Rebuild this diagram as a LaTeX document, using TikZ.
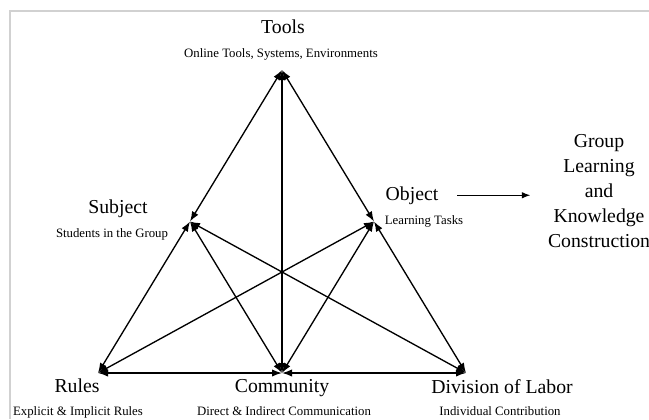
\documentclass[tikz,border=0pt]{standalone}
\usepackage{fontspec}
\setmainfont{Liberation Serif}
\usetikzlibrary{arrows.meta,calc}

\tikzset{
  big/.style={font=\fontsize{14.8}{18.9}\selectfont, inner sep=0pt},
  small/.style={font=\fontsize{9.6}{11}\selectfont, inner sep=0pt},
  link/.style={{Latex[length=7.5pt,width=5.5pt]}-{Latex[length=7.5pt,width=5.5pt]}, line width=1pt},
  lead/.style={-{Latex[length=6.5pt,width=5pt]}, line width=1pt},
}

\begin{document}
\begin{tikzpicture}[x=0.75pt,y=0.75pt,yscale=-1,xscale=1]
\useasboundingbox (0,0) rectangle (649,419);

%Frame
\draw[black!18, line width=0.8pt] (10,419) -- (10,11) -- (649,11);

%Corners of the triangle
\coordinate (tools) at (282,70);
\coordinate (rules) at (98,373);
\coordinate (division) at (466,373);
\coordinate (community) at ($(rules)!0.5!(division)$);
\coordinate (subject) at ($(tools)!0.5!(rules)$);
\coordinate (object) at ($(tools)!0.5!(division)$);

%Links
\draw[link] (tools) -- (subject);
\draw[link] (tools) -- (object);
\draw[link] (tools) -- (community);
\draw[link] (subject) -- (rules);
\draw[link] (subject) -- (community);
\draw[link] (subject) -- (division);
\draw[link] (object) -- (rules);
\draw[link] (object) -- (community);
\draw[link] (object) -- (division);
\draw[link] (rules) -- (community);
\draw[link] (community) -- (division);

% Text Node
\node[big, anchor=base] (toolsT) at (283,33) {Tools};
\node[small, anchor=base] (toolsS) at (281,57) {Online Tools, Systems, Environments};
% Text Node
\node[big, anchor=base] (subjectT) at (118,213) {Subject};
\node[small, anchor=base] (subjectS) at (112,237) {Students in the Group};
% Text Node
\node[big, anchor=base] (objectT) at (412,200) {Object};
\node[small, anchor=base] (objectS) at (424,224) {Learning Tasks};
% Text Node
\node[big, anchor=base] (rulesT) at (77,392) {Rules};
\node[small, anchor=base] (rulesS) at (78,415) {Explicit \& Implicit Rules};
% Text Node
\node[big, anchor=base] (communityT) at (282,392) {Community};
\node[small, anchor=base] (communityS) at (284,415) {Direct \& Indirect Communication};
% Text Node
\node[big, anchor=base] (divisionT) at (502,393) {Division of Labor};
\node[small, anchor=base] (divisionS) at (500,415) {Individual Contribution};
% Text Node
\node[big, align=center] (group) at (599,191) {Group\\Learning\\and\\Knowledge\\Construction};

%Object to outcome
\draw[lead, shorten <=14pt, shorten >=13pt] (objectT.east) -- (objectT.east -| group.west);

\end{tikzpicture}
\end{document}
